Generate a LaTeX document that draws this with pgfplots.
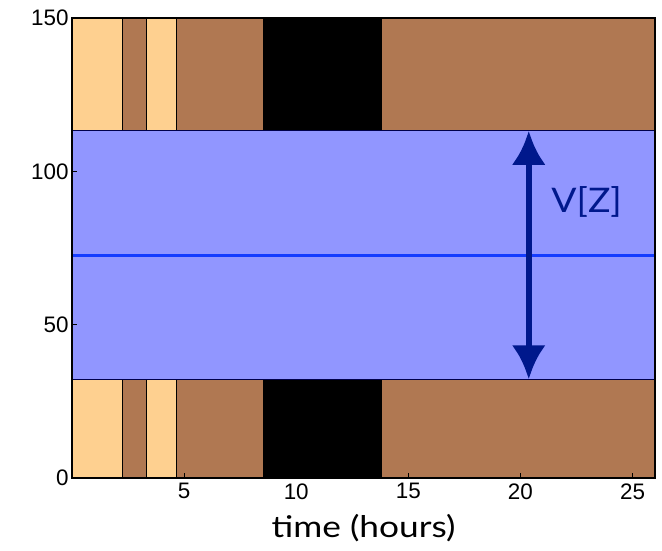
\documentclass[border=0pt]{standalone}
\usepackage{fontspec}
\setmainfont{Liberation Sans}
\newfontfamily\gill[FakeStretch=1.18]{Lato}
\newfontfamily\gillv[FakeStretch=1.1]{Lato}
\usepackage{pgfplots}
\pgfplotsset{compat=1.18}
\usetikzlibrary{arrows.meta}
\definecolor{lightor}{RGB}{254,208,144}
\definecolor{brownb}{RGB}{176,120,82}
\definecolor{bandb}{RGB}{145,150,255}
\definecolor{meanb}{RGB}{20,60,255}
\definecolor{arrowb}{RGB}{0,24,140}
\newcommand{\tl}{\fontsize{22.5}{27}\selectfont}
\begin{document}
\begin{tikzpicture}
\begin{axis}[
  scale only axis, width=583bp, height=460bp,
  xmin=0, xmax=26, ymin=0, ymax=150,
  xtick={5,10,15,20,25}, ytick={0,50,100,150},
  xticklabels={{\tl 5},{\tl 10},{\tl 15},{\tl 20},{\tl 25}},
  yticklabels={{\tl 0},{\tl 50},{\tl 100},{\tl 150}},
  tick align=inside, xtick pos=bottom, ytick pos=left,
  major tick length=5bp,
  axis on top,
  axis line style={line width=2.5bp},
  tick style={line width=1.2bp, black},
  xticklabel style={yshift=-2bp},
  xlabel={time (hours)},
  xlabel style={font=\gill\fontsize{30}{34}\selectfont, yshift=-8bp},
]
\addplot[fill=lightor, draw=black, line width=0.8bp] coordinates {(0,0) (2.24,0) (2.24,150) (0,150)} -- cycle;
\addplot[fill=brownb, draw=black, line width=0.8bp] coordinates {(2.24,0) (3.31,0) (3.31,150) (2.24,150)} -- cycle;
\addplot[fill=lightor, draw=black, line width=0.8bp] coordinates {(3.31,0) (4.66,0) (4.66,150) (3.31,150)} -- cycle;
\addplot[fill=brownb, draw=black, line width=0.8bp] coordinates {(4.66,0) (8.53,0) (8.53,150) (4.66,150)} -- cycle;
\addplot[fill=black, draw=black, line width=0.8bp] coordinates {(8.53,0) (13.81,0) (13.81,150) (8.53,150)} -- cycle;
\addplot[fill=brownb, draw=black, line width=0.8bp] coordinates {(13.81,0) (26,0) (26,150) (13.81,150)} -- cycle;
\addplot[fill=bandb, draw=black!70!blue, line width=1bp] coordinates {(0,32.2) (26,32.2) (26,113.2) (0,113.2)} -- cycle;
\addplot[meanb, line width=3bp] coordinates {(0,72.7) (26,72.7)};
\addplot[arrowb, line width=6.5bp, {Latex[length=34bp,width=34bp]}-{Latex[length=34bp,width=34bp]}] coordinates {(20.37,32.2) (20.37,113.2)};
\node[text=arrowb, font=\gillv\fontsize{34}{38}\selectfont] at (axis cs:22.95,90) {V[Z]};
\end{axis}
\path (current axis.south west) ++(-72bp,-73bp) rectangle ++(662bp,551bp);
\end{tikzpicture}
\end{document}
